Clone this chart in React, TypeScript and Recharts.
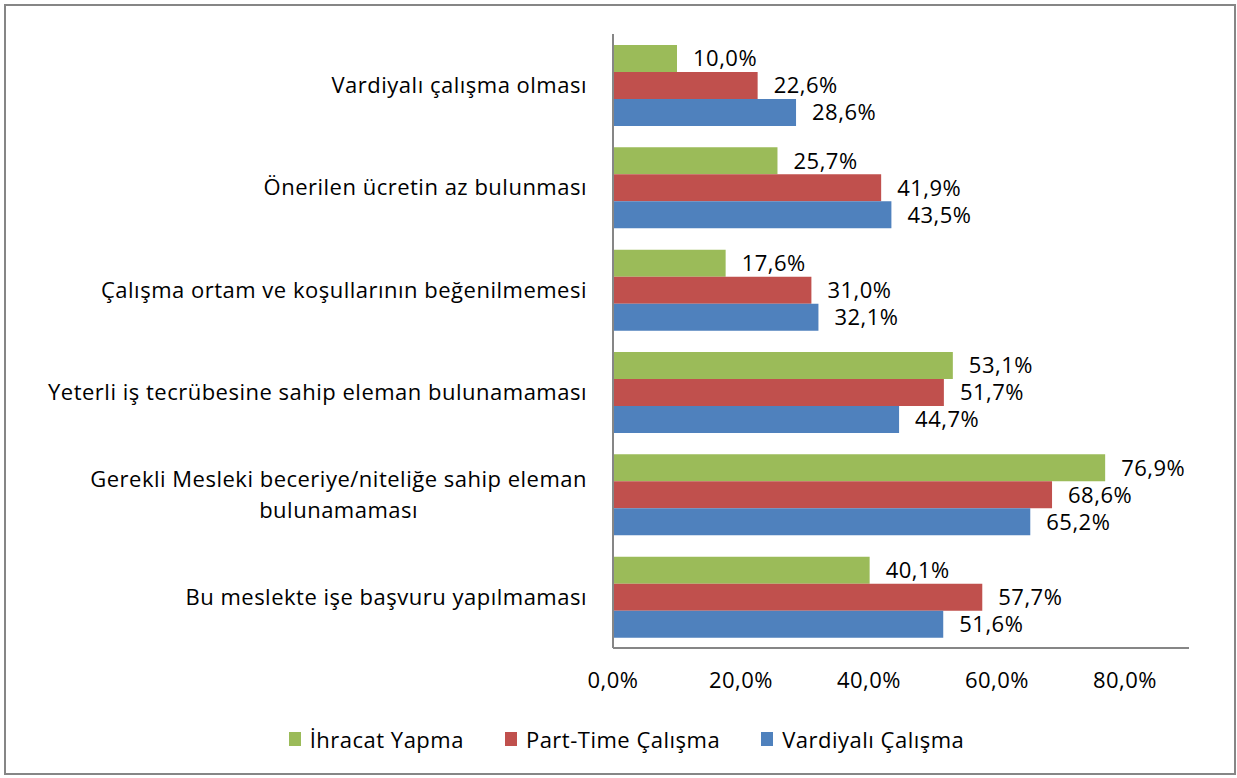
import React from 'react';
import {
  BarChart,
  Bar,
  XAxis,
  YAxis,
  Legend,
  LabelList,
} from 'recharts';

// ── Data ────────────────────────────────────────────────
const categories = [
  'Vardiyalı çalışma olması',
  'Önerilen ücretin az bulunması',
  'Çalışma ortam ve koşullarının beğenilmemesi',
  'Yeterli iş tecrübesine sahip eleman bulunamaması',
  'Gerekli Mesleki beceriye/niteliğe sahip eleman\nbulunamaması',
  'Bu meslekte işe başvuru yapılmaması',
];

const ihracatYapma = [10.0, 25.7, 17.6, 53.1, 76.9, 40.1];
const partTimeCalisma = [22.6, 41.9, 31.0, 51.7, 68.6, 57.7];
const vardiyaliCalisma = [28.6, 43.5, 32.1, 44.7, 65.2, 51.6];

const xTicks = [0, 20, 40, 60, 80];

const series = [
  { key: 'ihracat', name: 'İhracat Yapma', color: '#9BBB59' },
  { key: 'partTime', name: 'Part-Time Çalışma', color: '#C0504D' },
  { key: 'vardiyali', name: 'Vardiyalı Çalışma', color: '#4F81BD' },
];

const data = categories.map((name, i) => ({
  name,
  ihracat: ihracatYapma[i],
  partTime: partTimeCalisma[i],
  vardiyali: vardiyaliCalisma[i],
}));

// ── Styling ─────────────────────────────────────────────
const FONT = '"Open Sans", "Noto Sans", sans-serif';
const FONT_SIZE = 22;
const SPACING = 0.5;
const AXIS_GRAY = '#868686';

const fmt = (v: number) => v.toFixed(1).replace('.', ',') + '%';

let measureCtx: CanvasRenderingContext2D | null = null;
function textWidth(s: string): number {
  if (!measureCtx) measureCtx = document.createElement('canvas').getContext('2d');
  if (!measureCtx) return s.length * FONT_SIZE * 0.55;
  measureCtx.font = `${FONT_SIZE}px ${FONT}`;
  return measureCtx.measureText(s).width + s.length * SPACING;
}

// category label, lines centred on each other, block right-aligned
function CategoryTick(props: any) {
  const { x, y, payload } = props;
  const lines = String(payload.value).split('\n');
  const w = Math.max(...lines.map(textWidth));
  const cx = x - w / 2;
  const lineH = 31;
  const startY = y - ((lines.length - 1) * lineH) / 2;
  return (
    <g>
      {lines.map((line, i) => (
        <text
          key={i}
          x={cx}
          y={startY + i * lineH}
          dy="0.35em"
          textAnchor="middle"
          fill="#000"
          fontSize={FONT_SIZE}
          fontFamily={FONT}
          letterSpacing={SPACING}
        >
          {line}
        </text>
      ))}
    </g>
  );
}

function LegendContent() {
  return (
    <div
      style={{
        display: 'flex',
        justifyContent: 'center',
        alignItems: 'center',
        height: 75,
        paddingLeft: 64,
        paddingTop: 6,
        boxSizing: 'border-box',
        fontFamily: FONT,
        fontSize: FONT_SIZE,
        letterSpacing: SPACING,
        color: '#000',
      }}
    >
      {series.map((s, i) => (
        <div key={s.key} style={{ display: 'flex', alignItems: 'center', marginRight: i < series.length - 1 ? 41 : 0 }}>
          <span style={{ width: 12, height: 14, background: s.color, marginRight: 9, display: 'inline-block' }} />
          <span>{s.name}</span>
        </div>
      ))}
    </div>
  );
}

// ── Component ───────────────────────────────────────────
export default function App() {
  return (
    <div style={{ position: 'absolute', left: 0, top: 0, width: 1237, height: 778, background: '#fff' }}>
      <div
        style={{
          position: 'absolute',
          left: 4,
          top: 4,
          width: 1232,
          height: 771,
          border: `2px solid ${AXIS_GRAY}`,
          boxSizing: 'border-box',
        }}
      />
      <div style={{ position: 'absolute', left: 0, top: 0 }}>
        <BarChart
          width={1237}
          height={778}
          data={data}
          layout="vertical"
          margin={{ top: 34, right: 48, left: 0, bottom: 5 }}
          barSize={27}
          barGap={0}
        >
          <XAxis
            type="number"
            domain={[0, 90]}
            ticks={xTicks}
            tickFormatter={fmt}
            tickLine={false}
            tickSize={0}
            tickMargin={24}
            height={50}
            axisLine={{ stroke: AXIS_GRAY, strokeWidth: 2 }}
            tick={{ fill: '#000', fontSize: FONT_SIZE, fontFamily: FONT, letterSpacing: SPACING }}
          />
          <YAxis
            type="category"
            dataKey="name"
            width={613}
            tickLine={false}
            tickSize={0}
            tickMargin={26}
            interval={0}
            axisLine={{ stroke: AXIS_GRAY, strokeWidth: 2 }}
            tick={<CategoryTick />}
          />
          <Legend verticalAlign="bottom" content={<LegendContent />} />
          {series.map((s) => (
            <Bar key={s.key} dataKey={s.key} name={s.name} fill={s.color} isAnimationActive={false}>
              <LabelList
                dataKey={s.key}
                position="right"
                offset={16}
                formatter={(v: any) => fmt(Number(v))}
                fill="#000"
                fontSize={FONT_SIZE}
                fontFamily={FONT}
                letterSpacing={SPACING}
              />
            </Bar>
          ))}
        </BarChart>
      </div>
    </div>
  );
}
